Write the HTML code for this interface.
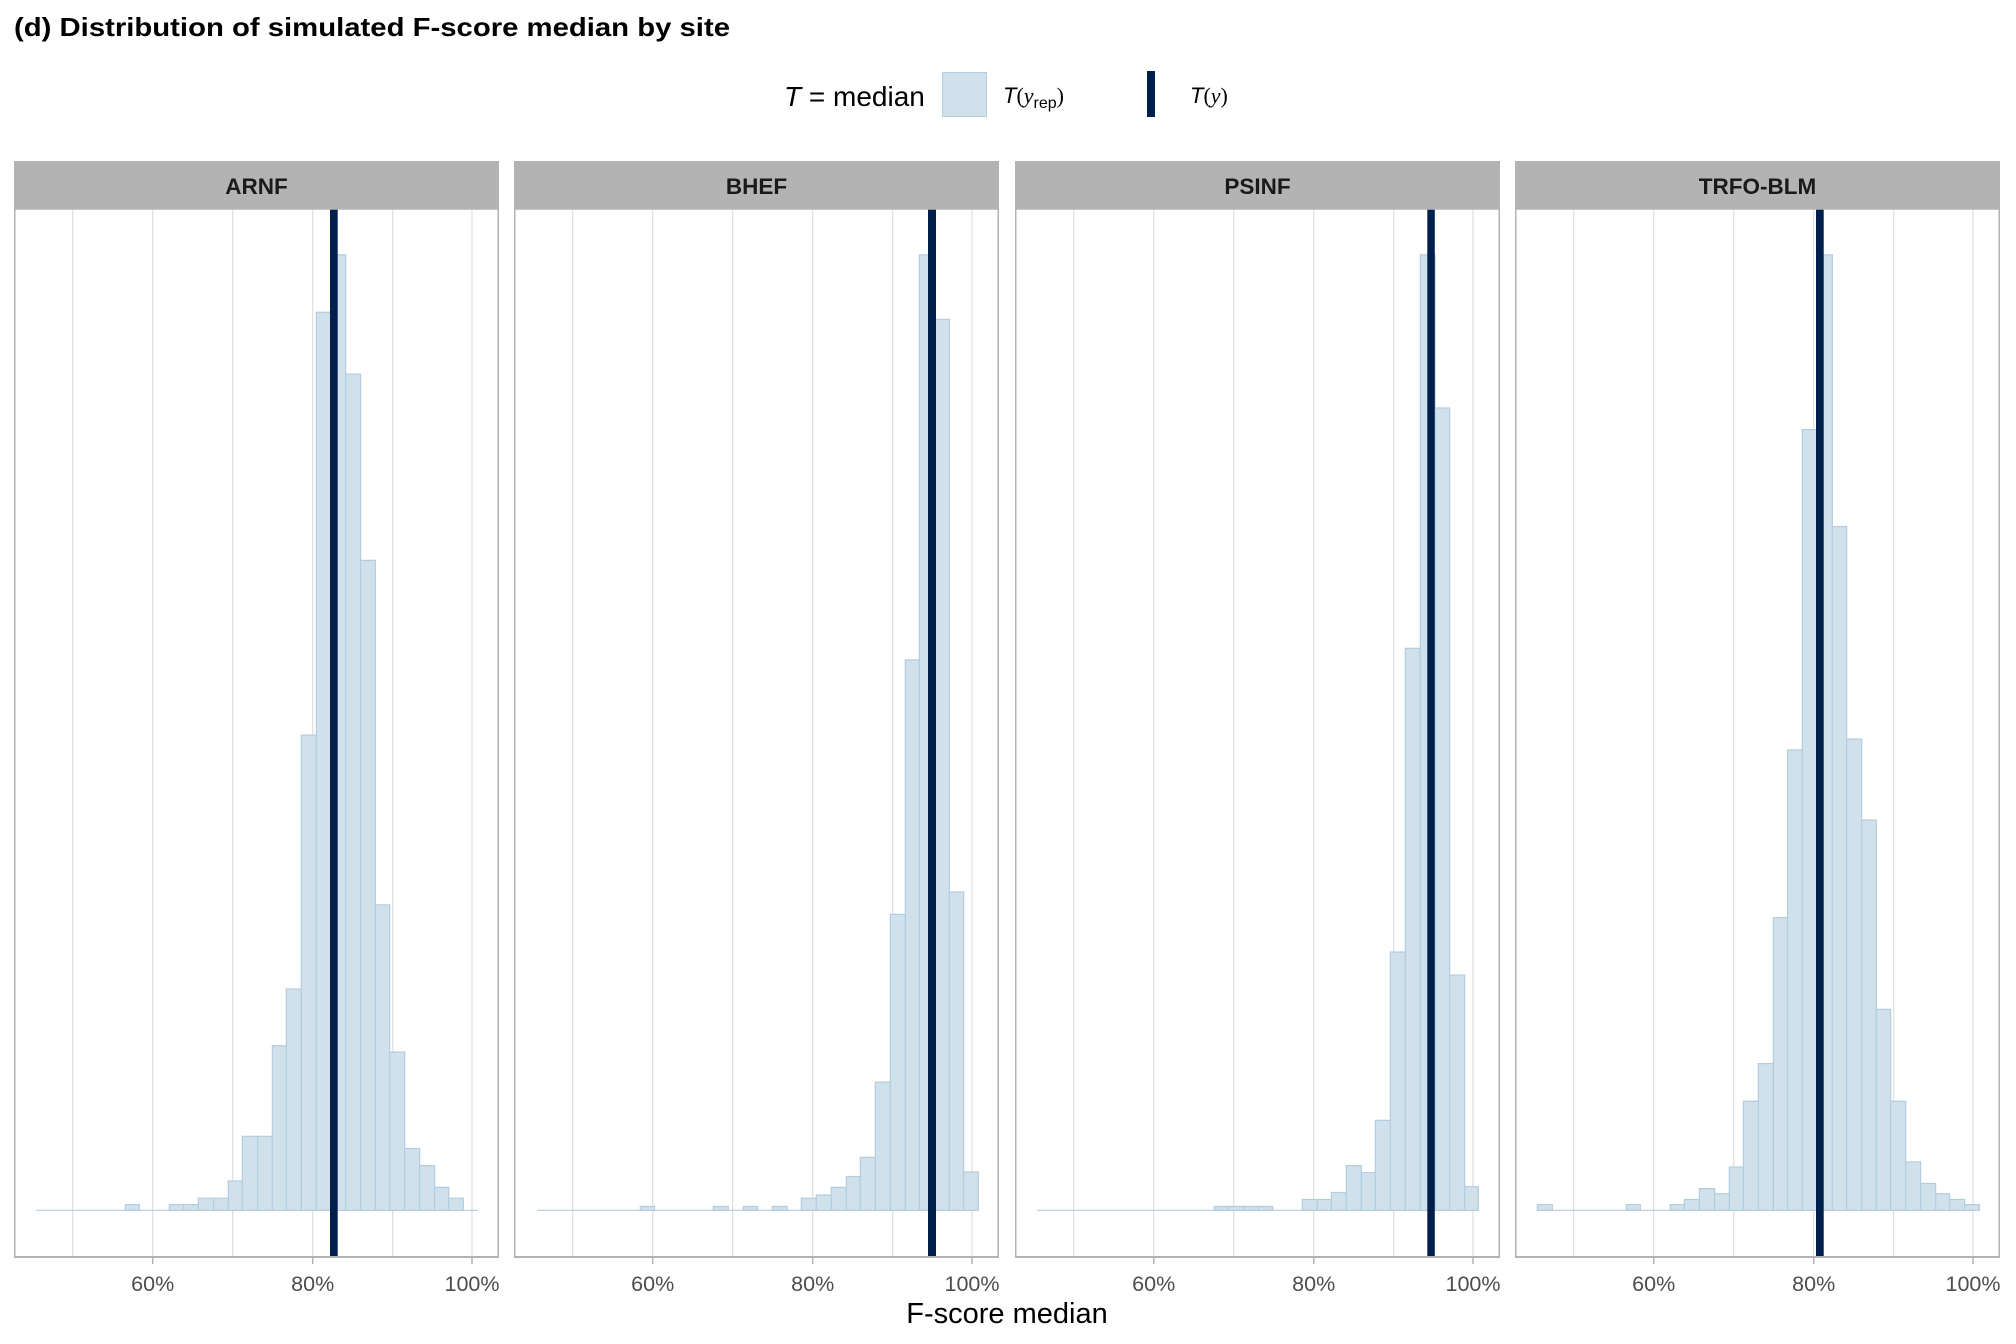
<!DOCTYPE html>
<html><head><meta charset="utf-8"><style>html,body{margin:0;padding:0;background:#fff}svg{display:block}</style></head>
<body>
<svg xmlns="http://www.w3.org/2000/svg" width="2016" height="1344" viewBox="0 0 2016 1344" font-family="Liberation Sans, Arial, sans-serif">
<rect width="2016" height="1344" fill="#fff"/>
<text x="14" y="36" font-size="26" font-weight="bold" fill="#000" textLength="716" lengthAdjust="spacingAndGlyphs">(d) Distribution of simulated F-score median by site</text>
<!-- legend -->
<text x="784" y="106" font-size="28" fill="#000"><tspan font-style="italic">T</tspan> = median</text>
<rect x="942.5" y="72.5" width="44" height="44" fill="#d1e1ec" stroke="#b3cde0" stroke-width="1"/>
<text x="1003" y="103" font-size="22" fill="#000" font-family="Liberation Serif, serif"><tspan font-style="italic" font-family="Liberation Sans, sans-serif">T</tspan>(<tspan font-style="italic">y</tspan><tspan font-size="16" dy="5" font-family="Liberation Sans, sans-serif">rep</tspan><tspan dy="-5">)</tspan></text>
<rect x="1147" y="71" width="8" height="46" fill="#011f4b"/>
<text x="1190" y="103" font-size="22" fill="#000" font-family="Liberation Serif, serif"><tspan font-style="italic" font-family="Liberation Sans, sans-serif">T</tspan>(<tspan font-style="italic">y</tspan>)</text>

<defs>
<g id="grid">
<rect x="0" y="209" width="485" height="1048" fill="#fff"/>
<g stroke="#dedede" stroke-width="1.2">
<line x1="58.7" y1="209" x2="58.7" y2="1257"/><line x1="138.7" y1="209" x2="138.7" y2="1257"/><line x1="218.7" y1="209" x2="218.7" y2="1257"/><line x1="298.7" y1="209" x2="298.7" y2="1257"/><line x1="378.7" y1="209" x2="378.7" y2="1257"/><line x1="458" y1="209" x2="458" y2="1257"/>
</g>
</g>
<g id="frame">
<rect x="0" y="161" width="485" height="48" fill="#b3b3b3"/>
<rect x="0.75" y="209" width="483.5" height="1048" fill="none" stroke="#b3b3b3" stroke-width="1.5"/>
<line x1="0" y1="1257" x2="485" y2="1257" stroke="#b3b3b3" stroke-width="2"/>
<g stroke="#b3b3b3" stroke-width="1.5"><line x1="138.7" y1="1257" x2="138.7" y2="1264"/><line x1="298.7" y1="1257" x2="298.7" y2="1264"/><line x1="458" y1="1257" x2="458" y2="1264"/></g>
<g font-size="21.5" fill="#4d4d4d" text-anchor="middle"><text x="138.7" y="1291">60%</text><text x="298.7" y="1291">80%</text><text x="458" y="1291">100%</text></g>
</g>
</defs>

<!-- Panel 1 ARNF -->
<g transform="translate(14,0)">
<use href="#grid"/>
<g transform="translate(0,230) scale(0.33333,0.6378)" fill="#d1e1ec" stroke="#b3cde0" stroke-width="1.2">
<line x1="66" y1="1537" x2="1391" y2="1537" vector-effect="non-scaling-stroke"/>
<rect vector-effect="non-scaling-stroke" x="334" y="1528" width="42" height="9"/>
<rect vector-effect="non-scaling-stroke" x="466" y="1528" width="43" height="9"/>
<rect vector-effect="non-scaling-stroke" x="509" y="1528" width="44" height="9"/>
<rect vector-effect="non-scaling-stroke" x="553" y="1518" width="46" height="19"/>
<rect vector-effect="non-scaling-stroke" x="599" y="1518" width="44" height="19"/>
<rect vector-effect="non-scaling-stroke" x="643" y="1491" width="42" height="46"/>
<rect vector-effect="non-scaling-stroke" x="685" y="1421" width="46" height="116"/>
<rect vector-effect="non-scaling-stroke" x="731" y="1421" width="44" height="116"/>
<rect vector-effect="non-scaling-stroke" x="775" y="1279" width="42" height="258"/>
<rect vector-effect="non-scaling-stroke" x="817" y="1190" width="45" height="347"/>
<rect vector-effect="non-scaling-stroke" x="862" y="792" width="45" height="745"/>
<rect vector-effect="non-scaling-stroke" x="907" y="129" width="43" height="1408"/>
<rect vector-effect="non-scaling-stroke" x="950" y="39" width="45" height="1498"/>
<rect vector-effect="non-scaling-stroke" x="995" y="226" width="45" height="1311"/>
<rect vector-effect="non-scaling-stroke" x="1040" y="518" width="44" height="1019"/>
<rect vector-effect="non-scaling-stroke" x="1084" y="1058" width="43" height="479"/>
<rect vector-effect="non-scaling-stroke" x="1127" y="1289" width="45" height="248"/>
<rect vector-effect="non-scaling-stroke" x="1172" y="1440" width="45" height="97"/>
<rect vector-effect="non-scaling-stroke" x="1217" y="1467" width="45" height="70"/>
<rect vector-effect="non-scaling-stroke" x="1262" y="1501" width="42" height="36"/>
<rect vector-effect="non-scaling-stroke" x="1304" y="1518" width="44" height="19"/>
</g>
<rect x="316" y="209" width="7.7" height="1048" fill="#011f4b"/>
<use href="#frame"/>
<text x="242.5" y="194" font-size="22.5" font-weight="bold" text-anchor="middle" fill="#1a1a1a">ARNF</text>
</g>

<!-- Panel 2 BHEF -->
<g transform="translate(514,0)">
<use href="#grid"/>
<g transform="translate(0,230) scale(0.33333,0.6378)" fill="#d1e1ec" stroke="#b3cde0" stroke-width="1.2">
<line x1="69" y1="1537" x2="1393" y2="1537" vector-effect="non-scaling-stroke"/>
<rect vector-effect="non-scaling-stroke" x="379" y="1531" width="42" height="6"/>
<rect vector-effect="non-scaling-stroke" x="598" y="1531" width="45" height="6"/>
<rect vector-effect="non-scaling-stroke" x="688" y="1531" width="43" height="6"/>
<rect vector-effect="non-scaling-stroke" x="775" y="1531" width="45" height="6"/>
<rect vector-effect="non-scaling-stroke" x="862" y="1518" width="45" height="19"/>
<rect vector-effect="non-scaling-stroke" x="907" y="1513" width="45" height="24"/>
<rect vector-effect="non-scaling-stroke" x="952" y="1501" width="45" height="36"/>
<rect vector-effect="non-scaling-stroke" x="997" y="1484" width="42" height="53"/>
<rect vector-effect="non-scaling-stroke" x="1039" y="1454" width="45" height="83"/>
<rect vector-effect="non-scaling-stroke" x="1084" y="1336" width="45" height="201"/>
<rect vector-effect="non-scaling-stroke" x="1129" y="1073" width="45" height="464"/>
<rect vector-effect="non-scaling-stroke" x="1174" y="674" width="42" height="863"/>
<rect vector-effect="non-scaling-stroke" x="1216" y="39" width="44" height="1498"/>
<rect vector-effect="non-scaling-stroke" x="1260" y="140" width="46" height="1397"/>
<rect vector-effect="non-scaling-stroke" x="1306" y="1038" width="43" height="499"/>
<rect vector-effect="non-scaling-stroke" x="1349" y="1477" width="44" height="60"/>
</g>
<rect x="414" y="209" width="8" height="1048" fill="#011f4b"/>
<use href="#frame"/>
<text x="242.5" y="194" font-size="22.5" font-weight="bold" text-anchor="middle" fill="#1a1a1a">BHEF</text>
</g>

<!-- Panel 3 PSINF -->
<g transform="translate(1015,0)">
<use href="#grid"/>
<g transform="translate(0,230) scale(0.33333,0.6378)" fill="#d1e1ec" stroke="#b3cde0" stroke-width="1.2">
<line x1="66" y1="1537" x2="1390" y2="1537" vector-effect="non-scaling-stroke"/>
<rect vector-effect="non-scaling-stroke" x="598" y="1531" width="43" height="6"/>
<rect vector-effect="non-scaling-stroke" x="641" y="1531" width="45" height="6"/>
<rect vector-effect="non-scaling-stroke" x="686" y="1531" width="45" height="6"/>
<rect vector-effect="non-scaling-stroke" x="731" y="1531" width="42" height="6"/>
<rect vector-effect="non-scaling-stroke" x="862" y="1520" width="45" height="17"/>
<rect vector-effect="non-scaling-stroke" x="907" y="1520" width="42" height="17"/>
<rect vector-effect="non-scaling-stroke" x="949" y="1509" width="45" height="28"/>
<rect vector-effect="non-scaling-stroke" x="994" y="1467" width="45" height="70"/>
<rect vector-effect="non-scaling-stroke" x="1039" y="1478" width="42" height="59"/>
<rect vector-effect="non-scaling-stroke" x="1081" y="1396" width="45" height="141"/>
<rect vector-effect="non-scaling-stroke" x="1126" y="1132" width="45" height="405"/>
<rect vector-effect="non-scaling-stroke" x="1171" y="656" width="45" height="881"/>
<rect vector-effect="non-scaling-stroke" x="1216" y="39" width="44" height="1498"/>
<rect vector-effect="non-scaling-stroke" x="1260" y="279" width="44" height="1258"/>
<rect vector-effect="non-scaling-stroke" x="1304" y="1168" width="45" height="369"/>
<rect vector-effect="non-scaling-stroke" x="1349" y="1500" width="41" height="37"/>
</g>
<rect x="412.3" y="209" width="7.5" height="1048" fill="#011f4b"/>
<use href="#frame"/>
<text x="242.5" y="194" font-size="22.5" font-weight="bold" text-anchor="middle" fill="#1a1a1a">PSINF</text>
</g>

<!-- Panel 4 TRFO-BLM -->
<g transform="translate(1516,0)">
<g transform="translate(-1,0)"><use href="#grid"/></g>
<g transform="translate(0,230) scale(0.33333,0.6378)" fill="#d1e1ec" stroke="#b3cde0" stroke-width="1.2">
<line x1="64" y1="1537" x2="1390" y2="1537" vector-effect="non-scaling-stroke"/>
<rect vector-effect="non-scaling-stroke" x="64" y="1528" width="45" height="9"/>
<rect vector-effect="non-scaling-stroke" x="331" y="1528" width="42" height="9"/>
<rect vector-effect="non-scaling-stroke" x="463" y="1528" width="42" height="9"/>
<rect vector-effect="non-scaling-stroke" x="505" y="1520" width="45" height="17"/>
<rect vector-effect="non-scaling-stroke" x="550" y="1503" width="46" height="34"/>
<rect vector-effect="non-scaling-stroke" x="596" y="1511" width="44" height="26"/>
<rect vector-effect="non-scaling-stroke" x="640" y="1469" width="42" height="68"/>
<rect vector-effect="non-scaling-stroke" x="682" y="1366" width="45" height="171"/>
<rect vector-effect="non-scaling-stroke" x="727" y="1307" width="45" height="230"/>
<rect vector-effect="non-scaling-stroke" x="772" y="1078" width="43" height="459"/>
<rect vector-effect="non-scaling-stroke" x="815" y="815" width="44" height="722"/>
<rect vector-effect="non-scaling-stroke" x="859" y="313" width="44" height="1224"/>
<rect vector-effect="non-scaling-stroke" x="903" y="39" width="46" height="1498"/>
<rect vector-effect="non-scaling-stroke" x="949" y="465" width="43" height="1072"/>
<rect vector-effect="non-scaling-stroke" x="992" y="798" width="45" height="739"/>
<rect vector-effect="non-scaling-stroke" x="1037" y="925" width="44" height="612"/>
<rect vector-effect="non-scaling-stroke" x="1081" y="1222" width="43" height="315"/>
<rect vector-effect="non-scaling-stroke" x="1124" y="1366" width="45" height="171"/>
<rect vector-effect="non-scaling-stroke" x="1169" y="1461" width="45" height="76"/>
<rect vector-effect="non-scaling-stroke" x="1214" y="1495" width="45" height="42"/>
<rect vector-effect="non-scaling-stroke" x="1259" y="1511" width="42" height="26"/>
<rect vector-effect="non-scaling-stroke" x="1301" y="1520" width="45" height="17"/>
<rect vector-effect="non-scaling-stroke" x="1346" y="1528" width="44" height="9"/>
</g>
<rect x="300" y="209" width="7.7" height="1048" fill="#011f4b"/>
<g transform="translate(-1,0)"><use href="#frame"/></g>
<text x="241.5" y="194" font-size="22.5" font-weight="bold" text-anchor="middle" fill="#1a1a1a">TRFO-BLM</text>
</g>

<text x="1007" y="1323" font-size="29" text-anchor="middle" fill="#000">F-score median</text>
</svg>
</body></html>
